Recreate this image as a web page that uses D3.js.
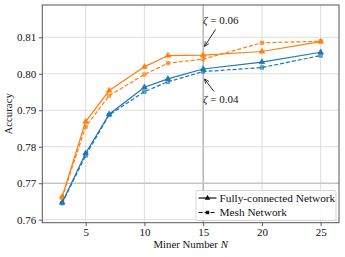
<!DOCTYPE html>
<html>
<head>
<meta charset="utf-8">
<script src="https://cdn.jsdelivr.net/npm/d3@7"></script>
<style>
	body { margin: 0; background: #fff; }
	svg { display: block; font-family: "Liberation Serif", "DejaVu Serif", serif; }
</style>
</head>
<body>
<div id="chart"></div>
<script>
'use strict';

var minerN = [3, 5, 7, 10, 12, 15, 20, 25];
var fullHigh = [0.7663, 0.7869, 0.7954, 0.8019, 0.8050, 0.8051, 0.8061, 0.8088];
var meshHigh = [0.7660, 0.7855, 0.7940, 0.7998, 0.8029, 0.8040, 0.8085, 0.8089];
var fullLow = [0.7647, 0.7782, 0.7889, 0.7963, 0.7986, 0.8013, 0.8032, 0.8059];
var meshLow = [0.7645, 0.7776, 0.7887, 0.7951, 0.7978, 0.8006, 0.8017, 0.8050];
var xTicks = [5, 10, 15, 20, 25];
var yTicks = [0.76, 0.77, 0.78, 0.79, 0.80, 0.81];
var legendLabels = ['Fully-connected Network', 'Mesh Network'];

var W = 345, H = 257;
var margin = { left: 42.3, top: 5, right: 6, bottom: 34.3 };
var iw = W - margin.left - margin.right,
	ih = H - margin.top - margin.bottom;

var svg = d3.select('#chart').append('svg')
	.attr('width', W)
	.attr('height', H);

var g = svg.append('g')
	.attr('transform', 'translate(' + margin.left + ',' + margin.top + ')');

var x = d3.scaleLinear().domain([1.31, 26.56]).range([0, iw]);
var y = d3.scaleLinear().domain([0.75918, 0.81885]).range([ih, 0]);

// grid
g.append('g').selectAll('line.gx').data(xTicks).enter().append('line')
	.attr('x1', function(d) { return x(d); })
	.attr('x2', function(d) { return x(d); })
	.attr('y1', 0).attr('y2', ih)
	.style('stroke', function(d) { return d === 15 ? '#9a9a9a' : '#d6d6d6'; })
	.style('stroke-width', function(d) { return d === 15 ? 1.1 : 0.8; });

g.append('g').selectAll('line.gy').data(yTicks).enter().append('line')
	.attr('x1', 0).attr('x2', iw)
	.attr('y1', function(d) { return y(d); })
	.attr('y2', function(d) { return y(d); })
	.style('stroke', function(d) { return d === 0.77 ? '#c4c4c4' : '#d6d6d6'; })
	.style('stroke-width', function(d) { return d === 0.77 ? 1.5 : 0.8; });

// axes
var xAxis = g.append('g')
	.attr('transform', 'translate(0,' + ih + ')')
	.call(d3.axisBottom(x).tickValues(xTicks).tickSize(3.5).tickPadding(2).tickFormat(d3.format('d')));
var yAxis = g.append('g')
	.call(d3.axisLeft(y).tickValues(yTicks).tickSize(3.5).tickPadding(2.5).tickFormat(d3.format('.2f')));

[xAxis, yAxis].forEach(function(a) {
	a.select('.domain').remove();
	a.selectAll('line').style('stroke', '#333').style('stroke-width', 0.8);
	a.selectAll('text').style('font-family', '"Liberation Serif", serif')
		.style('font-size', '11px').style('fill', '#111');
});

g.append('rect')
	.attr('width', iw).attr('height', ih)
	.style('fill', 'none')
	.style('stroke', '#555')
	.style('stroke-width', 1);

// series
var series = [
	{ vals: fullHigh, color: '#ff7f0e', dash: null, mark: 'tri' },
	{ vals: meshHigh, color: '#ff7f0e', dash: '4,2', mark: 'sq' },
	{ vals: fullLow, color: '#1f77b4', dash: null, mark: 'tri' },
	{ vals: meshLow, color: '#1f77b4', dash: '4,2', mark: 'sq' }
];

var line = d3.line()
	.x(function(d) { return x(d[0]); })
	.y(function(d) { return y(d[1]); });

var triSym = d3.symbol().type(d3.symbolTriangle).size(14);
var sqSym = d3.symbol().type(d3.symbolSquare).size(12);

series.forEach(function(s) {
	var pts = minerN.map(function(n, i) { return [n, s.vals[i]]; });
	g.append('path')
		.datum(pts)
		.attr('d', line)
		.style('fill', 'none')
		.style('stroke', s.color)
		.style('stroke-width', 1.2)
		.style('stroke-dasharray', s.dash);
	g.append('g').selectAll('path').data(pts).enter().append('path')
		.attr('d', s.mark === 'tri' ? triSym : sqSym)
		.attr('transform', function(d) { return 'translate(' + x(d[0]) + ',' + y(d[1]) + ')'; })
		.style('fill', s.color)
		.style('fill-opacity', s.mark === 'sq' ? 0.6 : 1)
		.style('stroke', s.color)
		.style('stroke-width', 0.6);
});

// annotations
svg.append('defs').append('marker')
	.attr('id', 'arr')
	.attr('viewBox', '0 0 10 10')
	.attr('refX', 9).attr('refY', 5)
	.attr('markerWidth', 6).attr('markerHeight', 6)
	.attr('orient', 'auto')
	.append('path')
	.attr('d', 'M0,1 L9,5 L0,9')
	.style('fill', 'none')
	.style('stroke', '#111')
	.style('stroke-width', 1.3);

function annotate(label, tx, ty, ax, ay, tipX, tipY) {
	var t = svg.append('text')
		.attr('x', tx).attr('y', ty)
		.style('font-size', '11px')
		.style('fill', '#111');
	t.append('tspan').style('font-style', 'italic').text('ζ');
	t.append('tspan').text(' = ' + label);
	svg.append('line')
		.attr('x1', ax).attr('y1', ay)
		.attr('x2', tipX).attr('y2', tipY)
		.style('stroke', '#111')
		.style('stroke-width', 0.9)
		.attr('marker-end', 'url(#arr)');
}

annotate('0.06', 203, 23.5, 215.5, 29.5, 204.5, 46.5);
annotate('0.04', 203, 103, 214, 91.5, 204.5, 79);

// axis labels
svg.append('text')
	.attr('x', margin.left + iw / 2).attr('y', 248)
	.attr('text-anchor', 'middle')
	.style('font-size', '10.8px')
	.style('fill', '#111')
	.html('Miner Number <tspan font-style="italic">N</tspan>');

svg.append('text')
	.attr('transform', 'translate(12,' + (margin.top + ih / 2) + ') rotate(-90)')
	.attr('text-anchor', 'middle')
	.style('font-size', '10.8px')
	.style('fill', '#111')
	.text('Accuracy');

// legend
var leg = svg.append('g').attr('transform', 'translate(196,190.5)');
leg.append('rect')
	.attr('width', 140).attr('height', 30).attr('rx', 2)
	.style('fill', '#fff').style('fill-opacity', 0.85)
	.style('stroke', '#ccc').style('stroke-width', 0.8);

legendLabels.forEach(function(lbl, i) {
	var yy = 7.5 + i * 14.5;
	leg.append('line')
		.attr('x1', 2.5).attr('x2', 20.5)
		.attr('y1', yy).attr('y2', yy)
		.style('stroke', '#111').style('stroke-width', 1.2)
		.style('stroke-dasharray', i === 1 ? '4,2' : null);
	leg.append('path')
		.attr('d', i === 0 ? triSym : sqSym)
		.attr('transform', 'translate(11.5,' + yy + ')')
		.style('fill', '#111');
	leg.append('text')
		.attr('x', 23.5).attr('y', yy + 3.8)
		.style('font-size', '11.3px')
		.style('fill', '#111')
		.text(lbl);
});
</script>
</body>
</html>
